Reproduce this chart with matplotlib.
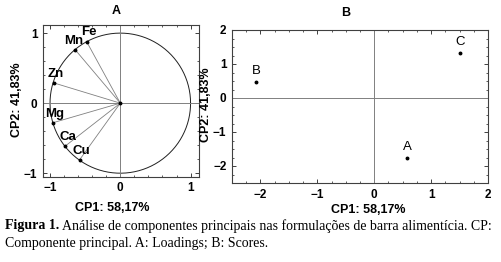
import numpy as np
import matplotlib
matplotlib.use("Agg")
import matplotlib.pyplot as plt
from matplotlib.ticker import AutoMinorLocator

# loadings (panel A)
elements = ["Fe", "Mn", "Zn", "Mg", "Ca", "Cu"]
load_cp1 = [-0.48, -0.64, -0.95, -0.96, -0.78, -0.58]
load_cp2 = [0.88, 0.76, 0.29, -0.28, -0.61, -0.81]

# scores (panel B)
samples = ["B", "C", "A"]
score_cp1 = [-2.08, 1.51, 0.58]
score_cp2 = [0.48, 1.33, -1.77]

xlabel = "CP1: 58,17%"
ylabel = "CP2: 41,83%"

W, H = 502, 262
fig = plt.figure(figsize=(W / 100, H / 100), dpi=100)
fig.patch.set_facecolor("white")

sans = "Liberation Sans"
serif = "Liberation Serif"


def px(x, y):
    return x / W, 1 - y / H


def style(ax):
    for s in ax.spines.values():
        s.set_color("#404040")
        s.set_linewidth(0.8)
    ax.tick_params(which="both", direction="in", top=True, right=True,
                   colors="#404040", labelcolor="black")
    ax.tick_params(which="major", length=3, width=0.7, pad=4)
    ax.tick_params(which="minor", length=1.5, width=0.6)
    for lab in ax.get_xticklabels() + ax.get_yticklabels():
        lab.set_fontfamily(sans)
        lab.set_fontweight("bold")
        lab.set_fontsize(8.5)


# panel A
axA = fig.add_axes([43 / W, 1 - 176.7 / H, 156 / W, 152 / H])
t = np.linspace(0, 2 * np.pi, 300)
axA.plot(np.cos(t), np.sin(t), color="#202020", lw=0.7)
axA.axhline(0, color="#808080", lw=0.7)
axA.axvline(0, color="#808080", lw=0.7)
# label nudges (points) so Fe and Mn don't collide
nudge = {"Fe": (2, 6.5), "Mn": (-1.5, 6.5)}
for name, x, y in zip(elements, load_cp1, load_cp2):
    axA.plot([0, x], [0, y], color="#808080", lw=0.6)
    axA.plot(x, y, "o", color="black", ms=1.8)
    axA.annotate(name, (x, y), xytext=nudge.get(name, (1.5, 6.5)),
                 textcoords="offset points", ha="center", va="center",
                 fontsize=9.5, fontweight="bold", family=sans)
axA.plot(0, 0, "o", color="black", ms=1.8)
axA.set_xlim(-1.1, 1.12)
axA.set_ylim(-1.05, 1.12)
axA.set_xticks([-1, 0, 1])
axA.set_yticks([-1, 0, 1])
axA.xaxis.set_minor_locator(AutoMinorLocator(5))
axA.yaxis.set_minor_locator(AutoMinorLocator(5))
style(axA)

# panel B
axB = fig.add_axes([232 / W, 1 - 183 / H, 256 / W, 153 / H])
axB.axhline(0, color="#808080", lw=0.7)
axB.axvline(0, color="#808080", lw=0.7)
for name, x, y in zip(samples, score_cp1, score_cp2):
    axB.plot(x, y, "o", color="black", ms=1.8)
    axB.annotate(name, (x, y), xytext=(0, 8), textcoords="offset points",
                 ha="center", va="center", fontsize=9.5, family=sans)
axB.set_xlim(-2.5, 2)
axB.set_ylim(-2.5, 2)
axB.set_xticks([-2, -1, 0, 1, 2])
axB.set_yticks([-2, -1, 0, 1, 2])
axB.xaxis.set_minor_locator(AutoMinorLocator(4))
axB.yaxis.set_minor_locator(AutoMinorLocator(4))
style(axB)

# titles and axis labels
lab_kw = dict(fontsize=9, fontweight="bold", family=sans, ha="center", va="center")
fig.text(*px(116, 11), "A", **lab_kw)
fig.text(*px(346, 13), "B", **lab_kw)
fig.text(*px(112, 208), xlabel, **lab_kw)
fig.text(*px(368, 210), xlabel, **lab_kw)
fig.text(*px(17, 100), ylabel, rotation=90, **lab_kw)
fig.text(*px(206, 105), ylabel, rotation=90, **lab_kw)

# caption
cap_size = 10
x0, y0 = px(5, 226)
t1 = fig.text(x0, y0, "Figura 1.", fontsize=cap_size, fontweight="bold",
              family=serif, va="center", ha="left")
fig.canvas.draw()
bb = t1.get_window_extent()
fig.text(bb.x1 / W + 3 / W, y0,
         "Análise de componentes principais nas formulações de barra alimentícia. CP:",
         fontsize=cap_size, family=serif, va="center", ha="left")
fig.text(*px(5, 243), "Componente principal. A: Loadings; B: Scores.",
         fontsize=cap_size, family=serif, va="center", ha="left")

fig.savefig("out.png", dpi=100)
